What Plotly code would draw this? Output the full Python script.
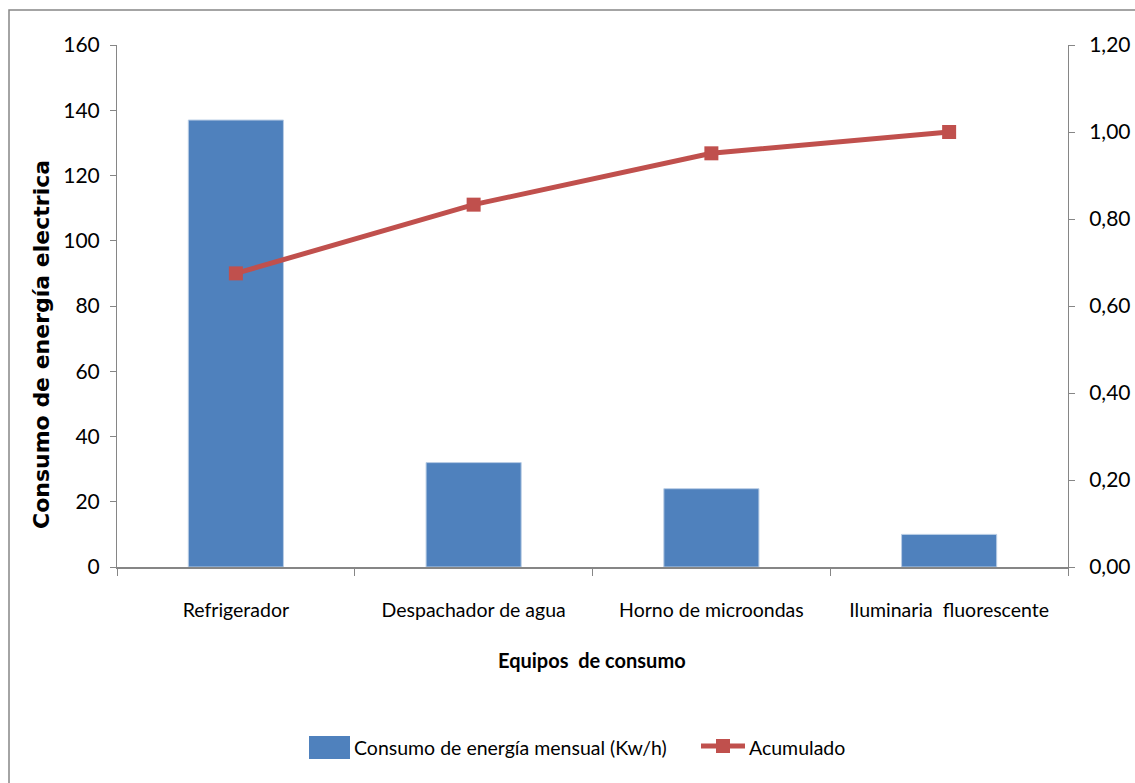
import plotly.graph_objects as go

categories = ["Refrigerador", "Despachador de agua", "Horno de microondas", "Iluminaria  fluorescente"]
consumo = [137, 32, 24, 10]
acumulado = [0.675, 0.833, 0.951, 1.00]
left_ticks = [0, 20, 40, 60, 80, 100, 120, 140, 160]
right_ticks = [0.0, 0.2, 0.4, 0.6, 0.8, 1.0, 1.2]
bar_name = "Consumo de energía mensual (Kw/h)"
line_name = "Acumulado"

W, H = 1135, 783
L, R, T, B = 117, 1068, 45, 567
pw, ph = R - L, B - T

def px(x):
    return (x - L) / pw

def py(y):
    return (B - y) / ph

FONT = "Lato, sans-serif"
AXC = "#868686"
BAR_C = "#4F81BD"
LINE_C = "#C0504D"

fig = go.Figure()
fig.add_trace(go.Bar(
    x=categories, y=consumo, name=bar_name,
    marker=dict(color=BAR_C, line=dict(color="#B9CDE5", width=1)),
    yaxis="y", showlegend=False,
))
fig.add_trace(go.Scatter(
    x=categories, y=acumulado, name=line_name, mode="lines+markers",
    line=dict(color=LINE_C, width=5),
    marker=dict(symbol="square", size=14, color=LINE_C),
    yaxis="y2", showlegend=False,
))

fig.update_layout(
    width=W, height=H,
    margin=dict(l=L, r=W - R, t=T, b=H - B, autoexpand=False),
    paper_bgcolor="white", plot_bgcolor="white",
    separators=",.",
    bargap=0.6,
    font=dict(family=FONT, size=19, color="#000000"),
    xaxis=dict(
        type="category", tickson="boundaries", ticks="outside", ticklen=7, tickcolor=AXC,
        showline=True, linecolor=AXC, linewidth=2, showgrid=False,
        tickfont=dict(family=FONT, size=19.5, color="#000000"), ticklabelstandoff=25,
    ),
    yaxis=dict(
        range=[0, 160], tickvals=left_ticks, ticks="outside", ticklen=6, tickcolor=AXC,
        showline=True, linecolor=AXC, linewidth=1, showgrid=False, zeroline=False,
        tickfont=dict(family=FONT, size=21, color="#000000"), ticklabelstandoff=6,
    ),
    yaxis2=dict(
        range=[0, 1.2], tickvals=right_ticks, tickformat=".2f", overlaying="y", side="right",
        ticks="outside", ticklen=6, tickcolor=AXC, showline=True, linecolor=AXC, linewidth=1,
        showgrid=False, zeroline=False,
        tickfont=dict(family=FONT, size=21, color="#000000"), ticklabelstandoff=10,
    ),
    annotations=[
        dict(text="<b>Consumo de energía electrica</b>", xref="paper", yref="paper",
             x=px(41), y=py(345), xanchor="center", yanchor="middle",
             textangle=-90, showarrow=False,
             font=dict(family="DejaVu Sans", size=22, color="#000000")),
        dict(text="<b>Equipos  de consumo</b>", xref="paper", yref="paper",
             x=px(592), y=py(660), xanchor="center", yanchor="middle", showarrow=False,
             font=dict(family=FONT, size=20, color="#000000")),
        dict(text=bar_name, xref="paper", yref="paper", x=px(352), y=py(747),
             xanchor="left", yanchor="middle", showarrow=False,
             font=dict(family=FONT, size=19.5, color="#000000")),
        dict(text=line_name, xref="paper", yref="paper", x=px(747), y=py(747),
             xanchor="left", yanchor="middle", showarrow=False,
             font=dict(family=FONT, size=19.5, color="#000000")),
    ],
    shapes=[
        dict(type="rect", xref="paper", yref="paper",
             x0=px(9), x1=px(1145), y0=py(800), y1=py(10),
             line=dict(color="#868686", width=1.5), fillcolor="rgba(0,0,0,0)", layer="below"),
        dict(type="rect", xref="paper", yref="paper",
             x0=px(309), x1=px(350), y0=py(759), y1=py(736),
             line=dict(width=0), fillcolor=BAR_C),
        dict(type="line", xref="paper", yref="paper",
             x0=px(701), x1=px(745), y0=py(746), y1=py(746),
             line=dict(color=LINE_C, width=5)),
        dict(type="rect", xref="paper", yref="paper",
             x0=px(716), x1=px(730), y0=py(753), y1=py(739),
             line=dict(width=0), fillcolor=LINE_C),
    ],
)

fig.write_html("out.html", config={"displayModeBar": False},
               post_script="document.body.style.margin='0px';")
